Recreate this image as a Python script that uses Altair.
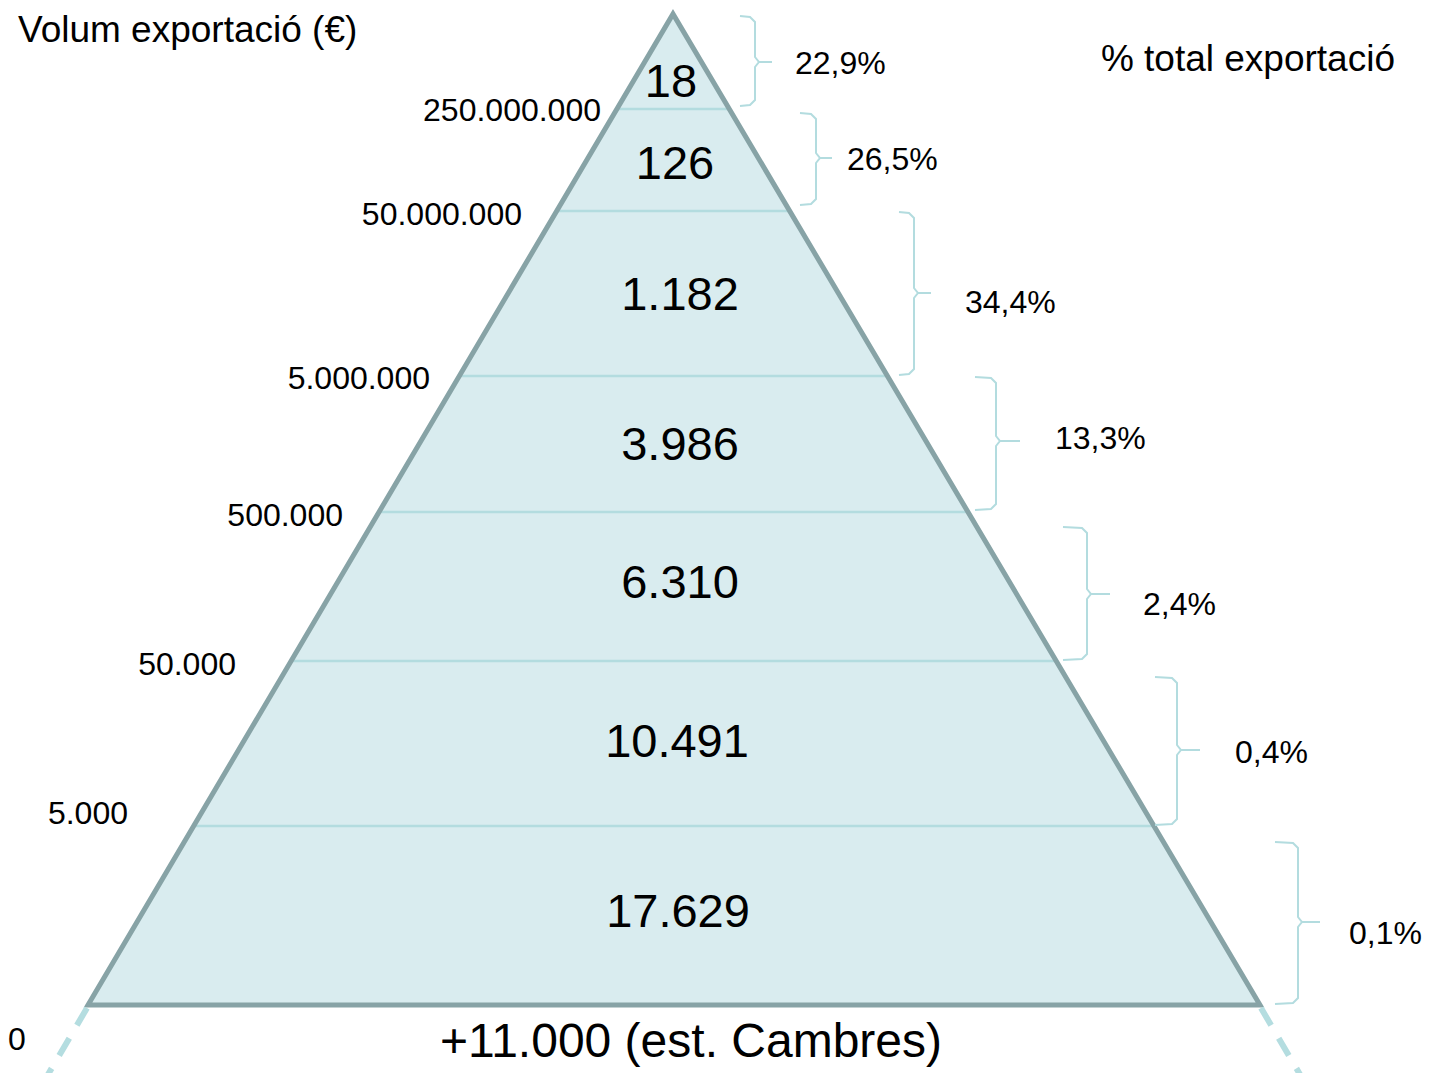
import altair as alt
import pandas as pd

# ---------------- data ----------------
thresholds = [250000000, 50000000, 5000000, 500000, 50000, 5000, 0]
companies = [18, 126, 1182, 3986, 6310, 10491, 17629]
shares = [22.9, 26.5, 34.4, 13.3, 2.4, 0.4, 0.1]
base_note = "+11.000 (est. Cambres)"
left_title = "Volum exportació (€)"
right_title = "% total exportació"

# ---------------- layout (pixels) ----------------
apex = (673, 14)
base_y = 1005
base_l, base_r = 88, 1260
tier_lines_y = [109, 211, 376, 512, 661, 826]
count_pos = [(671, 83), (675, 165), (680, 296), (680, 446), (680, 584), (677, 743), (678, 913)]
thr_pos = [(601, 111), (522, 215), (430, 379), (343, 516), (236, 665), (128, 814)]
zero_pos = (8, 1040)
# brace: x0 (hook end), x1 (spine), xtip, top, bottom, tip y
braces = [
    (740, 755, 772, 16, 106, 62),
    (800, 816, 832, 113, 205, 158),
    (899, 914, 931, 212, 375, 293),
    (975, 996, 1020, 377, 510, 441),
    (1063, 1087, 1110, 527, 660, 594),
    (1155, 1177, 1200, 677, 825, 750),
    (1275, 1298, 1320, 842, 1004, 922),
]
pct_pos = [(795, 64), (847, 160), (965, 303), (1055, 439), (1143, 605), (1235, 753), (1349, 934)]

FONT = "Liberation Sans"
W, H = 1418, 1065
xs = alt.Scale(domain=[8, 8 + W], nice=False, zero=False)
ys = alt.Scale(domain=[8, 8 + H], nice=False, zero=False, reverse=True)


def X(f="x"):
    return alt.X(f"{f}:Q", scale=xs, axis=None)


def Y(f="y"):
    return alt.Y(f"{f}:Q", scale=ys, axis=None)


def edge_x(y):
    t = (y - apex[1]) / (base_y - apex[1])
    return apex[0] + (base_l - apex[0]) * t, apex[0] + (base_r - apex[0]) * t


fmt_int = lambda v: f"{v:,}".replace(",", ".")
fmt_pct = lambda v: f"{v:.1f}".replace(".", ",") + "%"

# triangle fill
fill_df = pd.DataFrame({"y": [apex[1], base_y], "x": [apex[0], base_l], "x2": [apex[0], base_r]})
fill = alt.Chart(fill_df).mark_area(orient="horizontal", color="#d9ecef", opacity=1).encode(
    y=Y(), x=X(), x2=alt.X2("x2:Q")
)

# interior tier lines
rows = []
for y in tier_lines_y:
    l, r = edge_x(y)
    rows.append({"x": l, "x2": r, "y": y})
tiers = alt.Chart(pd.DataFrame(rows)).mark_rule(color="#b3dcdf", strokeWidth=2.5).encode(
    x=X(), x2=alt.X2("x2:Q"), y=Y()
)

# triangle outline
out_df = pd.DataFrame({
    "x": [apex[0], base_l, base_r, apex[0], base_l],
    "y": [apex[1], base_y, base_y, apex[1], base_y],
    "o": [0, 1, 2, 3, 4],
})
outline = alt.Chart(out_df).mark_line(color="#87a3a6", strokeWidth=5, strokeJoin="miter").encode(
    x=X(), y=Y(), order="o:Q"
)

# dashed extensions
dash_df = pd.DataFrame({
    "x": [base_l - 1, base_r + 1],
    "y": [base_y + 3, base_y + 3],
    "x2": [base_l - 52, base_r + 52],
    "y2": [base_y + 90, base_y + 90],
})
dashes = alt.Chart(dash_df).mark_rule(color="#b4dde0", strokeWidth=6, strokeDash=[20, 15]).encode(
    x=X(), y=Y(), x2=alt.X2("x2:Q"), y2=alt.Y2("y2:Q")
)

# braces
brows = []
for i, (x0, x1, xt, top, bot, ty) in enumerate(braces):
    pts = [(x0, top), (x1 - 5, top + 1), (x1, top + 6), (x1, ty - 5), (x1 + 4, ty), (xt, ty),
           (x1 + 4, ty), (x1, ty + 5), (x1, bot - 6), (x1 - 5, bot - 1), (x0, bot)]
    for k, (px, py) in enumerate(pts):
        brows.append({"g": i, "o": k, "x": px, "y": py})
brace = alt.Chart(pd.DataFrame(brows)).mark_line(color="#b3dcdf", strokeWidth=2).encode(
    x=X(), y=Y(), detail="g:N", order="o:Q"
)

# count labels
cnt_df = pd.DataFrame({"x": [p[0] for p in count_pos], "y": [p[1] for p in count_pos],
                       "t": [fmt_int(v) for v in companies]})
counts = alt.Chart(cnt_df).mark_text(font=FONT, fontSize=47, color="black", align="center",
                                     baseline="middle").encode(x=X(), y=Y(), text="t:N")

# threshold labels
thr_df = pd.DataFrame({"x": [p[0] for p in thr_pos], "y": [p[1] for p in thr_pos],
                       "t": [fmt_int(v) for v in thresholds[:-1]]})
thr = alt.Chart(thr_df).mark_text(font=FONT, fontSize=32, color="black", align="right",
                                  baseline="middle").encode(x=X(), y=Y(), text="t:N")
zero_df = pd.DataFrame({"x": [zero_pos[0]], "y": [zero_pos[1]], "t": [fmt_int(thresholds[-1])]})
zero = alt.Chart(zero_df).mark_text(font=FONT, fontSize=32, color="black", align="left",
                                    baseline="middle").encode(x=X(), y=Y(), text="t:N")

# percentage labels
pct_df = pd.DataFrame({"x": [p[0] for p in pct_pos], "y": [p[1] for p in pct_pos],
                       "t": [fmt_pct(v) for v in shares]})
pct = alt.Chart(pct_df).mark_text(font=FONT, fontSize=32, color="black", align="left",
                                  baseline="middle").encode(x=X(), y=Y(), text="t:N")

# titles / notes
tl_df = pd.DataFrame({"x": [18], "y": [31], "t": [left_title]})
tr_df = pd.DataFrame({"x": [1395], "y": [60], "t": [right_title]})
t_left = alt.Chart(tl_df).mark_text(font=FONT, fontSize=37, color="black", align="left",
                                    baseline="middle").encode(x=X(), y=Y(), text="t:N")
t_right = alt.Chart(tr_df).mark_text(font=FONT, fontSize=37, color="black", align="right",
                                     baseline="middle").encode(x=X(), y=Y(), text="t:N")
note_df = pd.DataFrame({"x": [691], "y": [1043], "t": [base_note]})
note = alt.Chart(note_df).mark_text(font=FONT, fontSize=48, color="black", align="center",
                                    baseline="middle").encode(x=X(), y=Y(), text="t:N")

chart = alt.layer(
    fill, tiers, outline, dashes, brace, counts, thr, zero, pct, t_left, t_right, note
).properties(
    width=W, height=H, autosize=alt.AutoSizeParams(type="none"), padding=0
).configure_view(stroke=None)

chart.save("out.html", embed_options={"renderer": "svg", "actions": False})
